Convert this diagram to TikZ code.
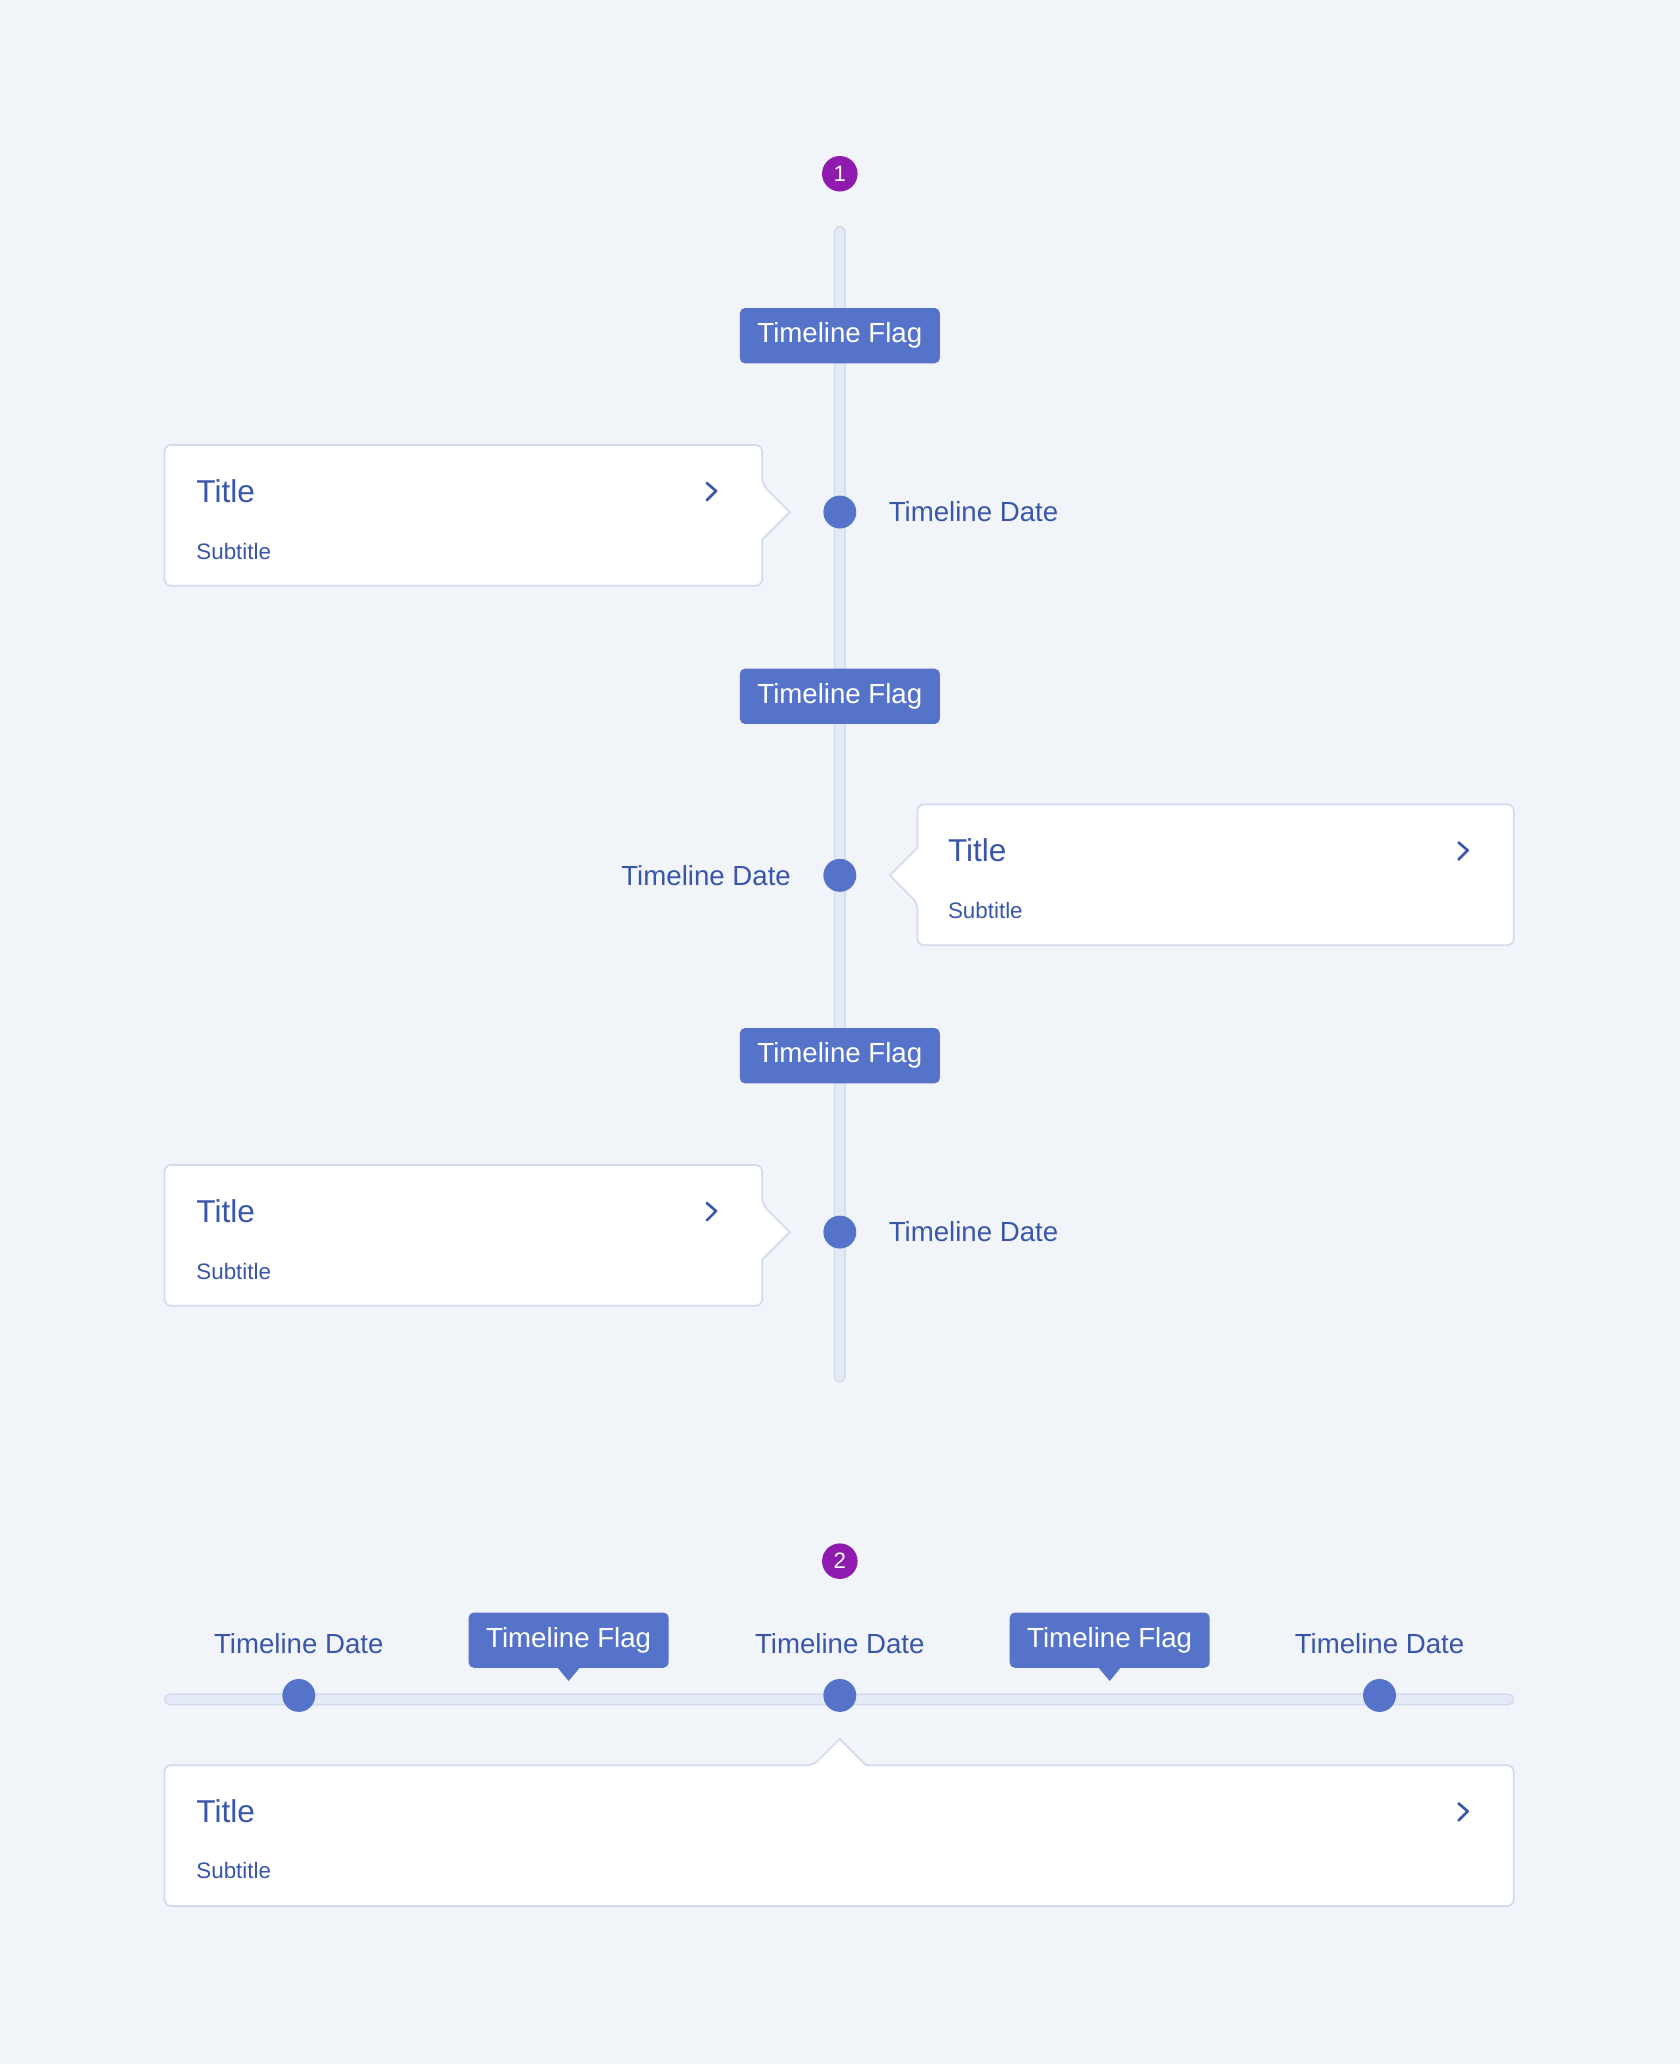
\documentclass[tikz,border=0pt]{standalone}
\usepackage{fontspec}
\setmainfont{Liberation Sans}
\usetikzlibrary{positioning}
\definecolor{bgc}{HTML}{F1F4F9}
\definecolor{flagc}{HTML}{5573C9}
\definecolor{txtc}{HTML}{3A56A8}
\definecolor{trackc}{HTML}{E3E9F5}
\definecolor{edgec}{HTML}{D2DAEE}
\definecolor{badgec}{HTML}{8E1AAE}
\begin{document}
\begin{tikzpicture}
[
x=1pt, y=-1pt,
flag-a/.style={fill=flagc, rounded corners=4pt, text=white, minimum width=152pt, minimum height=42pt, inner sep=0pt, font=\fontsize{21}{24}\selectfont},
date-a/.style={text=txtc, inner sep=0pt, font=\fontsize{21}{24}\selectfont},
dot-a/.style={circle, fill=flagc, minimum size=25pt, inner sep=0pt},
badge-a/.style={circle, fill=badgec, text=white, minimum size=27pt, inner sep=0pt, font=\fontsize{17}{20}\selectfont},
card-a/.style={fill=white, draw=edgec, line width=1.3pt, rounded corners=5pt},
title-a/.style={text=txtc, anchor=west, inner sep=0pt, font=\fontsize{24}{28}\selectfont},
sub-a/.style={text=txtc, anchor=west, inner sep=0pt, font=\fontsize{17}{20}\selectfont},
chev-a/.style={draw=txtc, line width=2pt, line cap=round, line join=round},
track-a/.style={fill=trackc, draw=edgec, line width=1pt, rounded corners=4pt}
]
\fill[bgc] (0,0) rectangle (1276,1568);
\useasboundingbox (0,0) rectangle (1276,1568);
% vertical timeline
\node (badge-1) [badge-a] at (638,132) {1};
\draw [track-a] (634,172) rectangle (642,1050);
\foreach \fy [count=\i] in {255,529,802}
  \node (flag-v\i) [flag-a] at (638,\fy) {Timeline Flag};
\node (dot-v1) [dot-a] at (638,389) {};
\node (dot-v2) [dot-a] at (638,665) {};
\node (dot-v3) [dot-a] at (638,936) {};
\node (date-v1) [date-a, anchor=west] at (675,389) {Timeline Date};
\node (date-v2) [date-a, anchor=east] at (601,665) {Timeline Date};
\node (date-v3) [date-a, anchor=west] at (675,936) {Timeline Date};
% cards
\foreach \cy in {338,885}{
  \draw [card-a] (125,\cy) -- (579,\cy) -- (579,\cy+30) [sharp corners] -- (600,\cy+51) -- (579,\cy+72) [rounded corners=5pt] -- (579,\cy+107) -- (125,\cy+107) -- cycle;
  \node [title-a] at (149,\cy+35) {Title};
  \node [sub-a] at (149,\cy+81) {Subtitle};
  \draw [chev-a] (537,\cy+29) -- (544,\cy+35) -- (537,\cy+42);
}
\draw [card-a] (697,611) -- (1150,611) -- (1150,718) -- (697,718) -- (697,686) [sharp corners] -- (676,665) -- (697,644) [rounded corners=5pt] -- cycle;
\node (title-v2) [title-a] at (720,646) {Title};
\node (sub-v2) [sub-a] at (720,692) {Subtitle};
\draw [chev-a] (1108,640) -- (1115,646) -- (1108,653);
% horizontal timeline
\node (badge-2) [badge-a] at (638,1186) {2};
\draw [track-a] (125,1287) rectangle (1150,1295);
\foreach \dx [count=\i] in {227,638,1048}{
  \node (dot-h\i) [dot-a] at (\dx,1288) {};
  \node (date-h\i) [date-a] at (\dx,1249) {Timeline Date};
}
\foreach \fx [count=\i] in {432,843}{
  \fill [flagc] (\fx-10,1265) -- (\fx,1277) -- (\fx+10,1265) -- cycle;
  \node (flag-h\i) [flag-a] at (\fx,1246) {Timeline Flag};
}
\draw [card-a] (125,1341) -- (618,1341) [sharp corners] -- (638,1321) -- (658,1341) [rounded corners=5pt] -- (1150,1341) -- (1150,1448) -- (125,1448) -- cycle;
\node (title-h) [title-a] at (149,1376) {Title};
\node (sub-h) [sub-a] at (149,1421) {Subtitle};
\draw [chev-a] (1108,1370) -- (1115,1376) -- (1108,1383);
\end{tikzpicture}
\end{document}
